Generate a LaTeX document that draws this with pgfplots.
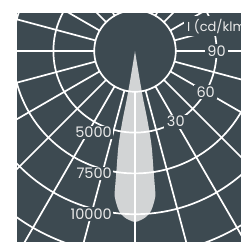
\documentclass[border=0pt]{standalone}
\usepackage{pgfplots}
\pgfplotsset{compat=1.18}
\usepackage{fontspec}
\setmainfont{Poppins}
\definecolor{bg}{HTML}{3D4A51}
\definecolor{beam}{HTML}{D2D4D5}
\definecolor{txt}{HTML}{EBEBEB}
\tikzset{gline/.style={draw=white, line width=1.7bp},
  lbl/.style={fill=bg, text=txt, inner xsep=2.5bp, inner ysep=1.5bp, font=\fontsize{14.5bp}{16bp}\selectfont}}
\begin{document}
\begin{tikzpicture}
\path[use as bounding box, fill=white] (0,0) rectangle (241bp,242bp);
\begin{axis}[at={(17bp,0bp)}, anchor=south west, scale only axis,
  width=224bp, height=229bp,
  xmin=-7229.9, xmax=6494.6, ymin=-11702.6, ymax=2328.3,
  axis line style={draw=none}, xtick=\empty, ytick=\empty,
  axis background/.style={fill=bg}, clip=true]
% beam: luminous intensity I (cd/klm) against angle (data cs polar)
\addplot[fill=beam, draw=none, smooth, tension=0.5, data cs=polar] coordinates {
 (-80.0,0) (-80.8,1000) (-80.6,2000) (-80.3,3100) (-79.8,4360) (-80.1,5910)
 (-81.2,7440) (-81.7,8480) (-82.0,8970) (-83.1,9440) (-84.3,9850)
 (-86.2,10190) (-88.0,10360) (-90,10480)
 (-92.0,10360) (-93.8,10190) (-95.7,9850) (-96.9,9440) (-98.0,8970)
 (-98.3,8480) (-98.8,7440) (-99.9,5910) (-100.2,4360) (-99.7,3100)
 (-99.4,2000) (-99.2,1000) (-100.0,0)};
% radial grid
\pgfplotsinvokeforeach{-165,-150,-135,-120,-105,-90,-75,-60,-45,-30,-15,0,15,30,45,60,75,90,105,120,135,150,165}{
  \draw[gline] (axis cs:{2500*sin(#1)},{-2500*cos(#1)}) -- (axis cs:{20000*sin(#1)},{-20000*cos(#1)});
}
% circular grid
\draw[gline] (axis cs:0,0) circle[radius=40.80bp];
\draw[gline] (axis cs:0,0) circle[radius=81.61bp];
\draw[gline] (axis cs:0,0) circle[radius=122.41bp];
\draw[gline] (axis cs:0,0) circle[radius=163.21bp];
\draw[gline] (axis cs:0,0) circle[radius=204.02bp];
% labels
\node[lbl, anchor=base west, inner xsep=3bp, inner ysep=3bp, font=\fontsize{13bp}{15bp}\selectfont] at (axis cs:3002,1225) {I (cd/klm)};
\node[lbl] at (axis cs:5000,0) {90};
\node[lbl] at (axis cs:4330,-2500) {60};
\node[lbl] at (axis cs:2500,-4330) {30};
\node[lbl, anchor=east, inner xsep=1.5bp] at (axis cs:-1317,-5000) {5000};
\node[lbl, anchor=east, inner xsep=1.5bp] at (axis cs:-1317,-7500) {7500};
\node[lbl, anchor=east, inner xsep=1.5bp] at (axis cs:-1317,-10000) {10000};
\end{axis}
\end{tikzpicture}
\end{document}
